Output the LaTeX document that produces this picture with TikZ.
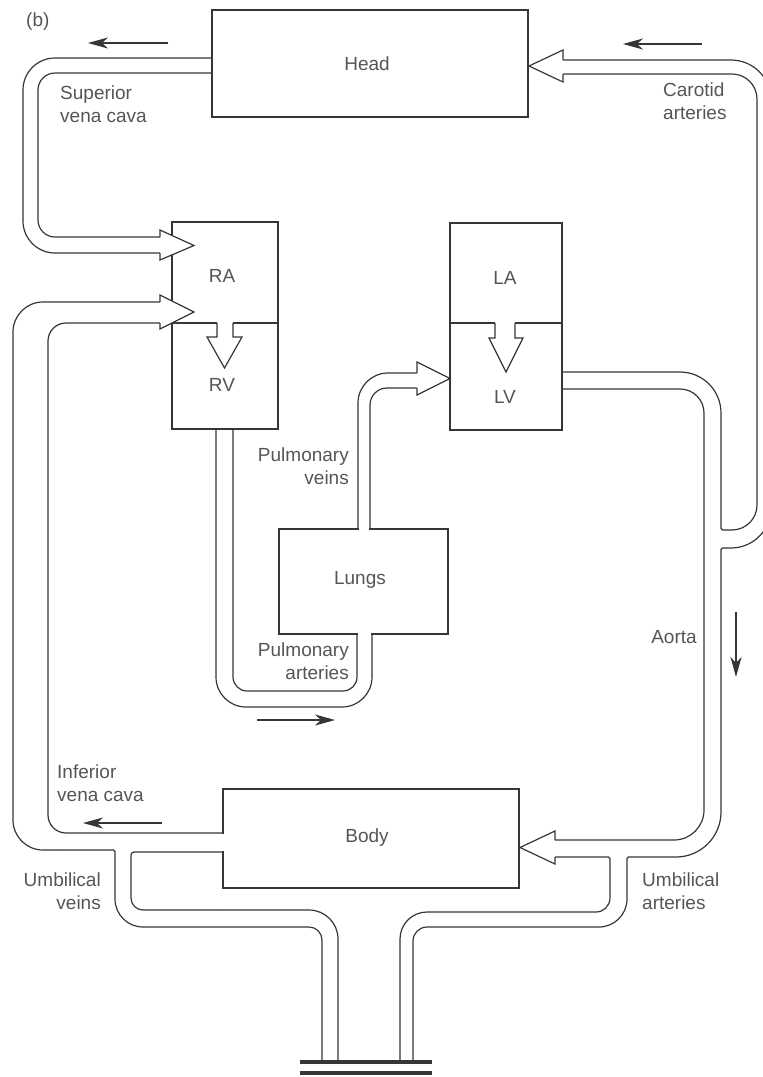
\documentclass[tikz,border=0pt]{standalone}
\usepackage{fontspec}
\setmainfont{Liberation Sans}
\usetikzlibrary{arrows.meta}
\definecolor{ink}{HTML}{363636}
\definecolor{txt}{HTML}{555555}
\begin{document}
\begin{tikzpicture}[x=1pt,y=-1pt,
  box/.style={draw=ink, line width=1.7pt, rectangle, inner sep=0pt, outer sep=0pt},
  tube/.style={draw=ink, line width=1.2pt, line join=miter},
  lbl/.style={text=txt, font=\fontsize{19}{23}\selectfont, inner sep=0pt},
  flow/.style={draw=ink, line width=1.1pt, -{Stealth[length=20pt,width=11pt,inset=6pt]}},
  headtip/.style={draw=ink, line width=1.2pt, fill=white, line join=miter},
  gapcover/.style={draw=white, line width=2.6pt},
  plate/.style={draw=ink, line width=3.8pt}
]
\useasboundingbox (0,0) rectangle (763,1077);
\clip (0,0) rectangle (763,1077);

% boxes
\node[box, minimum width=316pt, minimum height=107pt] (head) at (370,63.5) {};
\node[box, minimum width=106pt, minimum height=207pt] (rarv) at (225,325.5) {};
\node[box, minimum width=112pt, minimum height=207pt] (lalv) at (506,326.5) {};
\node[box, minimum width=169pt, minimum height=105pt] (lungs) at (363.5,581.5) {};
\node[box, minimum width=296pt, minimum height=99pt] (body) at (371,838.5) {};

% dividers between atria and ventricles
\draw[ink, line width=1.7pt] (172,323) -- (217,323) (233,323) -- (278,323);
\draw[ink, line width=1.7pt] (450,323) -- (495,323) (515,323) -- (562,323);

% openings where tubes enter boxes
\draw[gapcover] (358.6,529) -- (369.4,529);
\draw[gapcover] (357.6,634) -- (371.4,634);
\draw[gapcover] (223,833.6) -- (223,851.4);

% superior vena cava
\draw[tube, rounded corners=32pt] (212,58) -- (23,58) -- (23,253) -- (160,253);
\draw[tube, rounded corners=17pt] (212,73) -- (38,73) -- (38,237) -- (160,237);
% inferior vena cava + umbilical veins
\draw[tube, rounded corners=30pt] (160,302) -- (13,302) -- (13,850) -- (60,850);
\draw[tube, rounded corners=1.5pt] (60,850) -- (115,850) -- (115,890);
\draw[tube, rounded corners=28pt] (115,890) -- (115,927) -- (220,927);
\draw[tube, rounded corners=13pt] (220,927) -- (322,927) -- (322,1060);
\draw[tube, rounded corners=18pt] (160,323) -- (48,323) -- (48,833) -- (223,833);
\draw[tube, rounded corners=3pt] (223,852) -- (131,852) -- (131,880);
\draw[tube, rounded corners=12pt] (131,880) -- (131,910) -- (220,910);
\draw[tube, rounded corners=29pt] (220,910) -- (338,910) -- (338,1060);
% pulmonary arteries
\draw[tube, rounded corners=30pt] (216,429) -- (216,707) -- (372,707) -- (372,634);
\draw[tube, rounded corners=14pt] (233,429) -- (233,691) -- (357,691) -- (357,634);
% pulmonary veins
\draw[tube, rounded corners=30pt] (358,529) -- (358,373) -- (417,373);
\draw[tube, rounded corners=17pt] (370,529) -- (370,388) -- (417,388);
% aorta, carotid arteries, umbilical arteries
\draw[tube, rounded corners=41pt] (562,372) -- (721,372) -- (721,450);
\draw[tube, rounded corners=1.5pt] (721,450) -- (721,530) -- (727,530);
\draw[tube, rounded corners=25pt] (727,530) -- (757,530) -- (757,74) -- (563,74);
\draw[tube, rounded corners=40pt] (563,60) -- (771,60) -- (771,548) -- (726,548);
\draw[tube, rounded corners=1.5pt] (726,548) -- (721,548) -- (721,600);
\draw[tube, rounded corners=45pt] (721,600) -- (721,857) -- (670,857);
\draw[tube, rounded corners=1.5pt] (670,857) -- (627,857) -- (627,890);
\draw[tube, rounded corners=28pt] (627,890) -- (627,927) -- (500,927);
\draw[tube, rounded corners=14pt] (500,927) -- (413,927) -- (413,1060);
\draw[tube, rounded corners=24pt] (562,389) -- (704,389) -- (704,600);
\draw[tube, rounded corners=30pt] (704,600) -- (704,840) -- (555,840);
\draw[tube, rounded corners=1.5pt] (555,857) -- (610,857) -- (610,880);
\draw[tube, rounded corners=14pt] (610,880) -- (610,912) -- (500,912);
\draw[tube, rounded corners=27pt] (500,912) -- (400,912) -- (400,1060);

% broad arrow heads
\draw[headtip] (160,237) -- (160,230) -- (194,245.5) -- (160,260) -- (160,253);
\draw[headtip] (160,302) -- (160,295) -- (194,312) -- (160,329) -- (160,323);
\draw[headtip] (417,373) -- (417,362) -- (450,378.5) -- (417,395) -- (417,388);
\draw[headtip] (563,60) -- (563,50) -- (529,66) -- (563,82) -- (563,74);
\draw[headtip] (555,840) -- (555,831) -- (520,847.5) -- (555,864) -- (555,857);
% valve arrows
\draw[headtip] (217,323) -- (217,337) -- (207,337) -- (224.5,368) -- (242,337) -- (233,337) -- (233,323);
\draw[headtip] (495,323) -- (495,338) -- (489,338) -- (506,372) -- (523,338) -- (515,338) -- (515,323);

% placenta
\draw[plate] (300,1062) -- (432,1062);
\draw[plate] (300,1073) -- (432,1073);

% flow arrows
\draw[flow] (168,43) -- (88,43);
\draw[flow] (702,44) -- (623,44);
\draw[flow] (257,720) -- (335,720);
\draw[flow] (736,612) -- (736,677);
\draw[flow] (162,823) -- (83,823);

% labels
\node[lbl, anchor=west] (lb) at (26,22) {(b)};
\node[lbl] (lhead) at (367,64) {Head};
\node[lbl] (lbody) at (367,838) {Body};
\node[lbl] (lra) at (222,276) {RA};
\node[lbl] (lrv) at (222,385) {RV};
\node[lbl] (lla) at (505,278) {LA};
\node[lbl] (llv) at (505,397) {LV};
\node[lbl] (llungs) at (360,580) {Lungs};
\node[lbl, anchor=west, align=left] (lsvc) at (60,104) {Superior\\vena cava};
\node[lbl, anchor=west, align=left] (lcar) at (663,101) {Carotid\\arteries};
\node[lbl, anchor=east, align=right] (lpv) at (349,466) {Pulmonary\\veins};
\node[lbl, anchor=east, align=right] (lpa) at (349,661) {Pulmonary\\arteries};
\node[lbl] (lao) at (674,637) {Aorta};
\node[lbl, anchor=west, align=left] (livc) at (57,783) {Inferior\\vena cava};
\node[lbl, anchor=east, align=right] (luv) at (101,891) {Umbilical\\veins};
\node[lbl, anchor=west, align=left] (lua) at (642,891) {Umbilical\\arteries};
\end{tikzpicture}
\end{document}
